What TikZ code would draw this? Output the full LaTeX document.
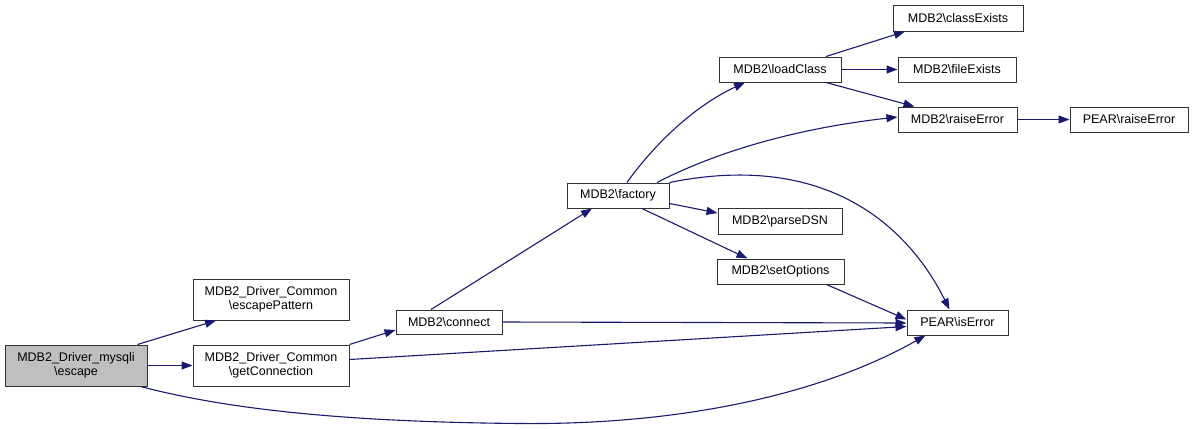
\documentclass[tikz,border=0pt]{standalone}
\usepackage{fontspec}
\setmainfont{Liberation Sans}
\usetikzlibrary{arrows.meta}
\definecolor{edgecol}{HTML}{191970}
\definecolor{boxgray}{HTML}{BFBFBF}
\tikzset{
  fnbox/.style={draw=black!80, line width=1pt, fill=white, rectangle, inner sep=0pt, align=center, font=\fontsize{12.5pt}{14.5pt}\selectfont},
  callarrow/.style={draw=edgecol, line width=1.1pt, -{Triangle[length=11pt,width=8pt]}}
}
\begin{document}
\begin{tikzpicture}[x=1pt,y=-1pt]
\useasboundingbox (0,0) rectangle (1195,429);
\node[fnbox, fill=boxgray, minimum width=142pt, minimum height=41pt] (esc) at (76,365.5) {MDB2\_Driver\_mysqli\\\textbackslash escape};
\node[fnbox, minimum width=156pt, minimum height=41pt] (ep) at (271,299.5) {MDB2\_Driver\_Common\\\textbackslash escapePattern};
\node[fnbox, minimum width=156pt, minimum height=41pt] (gc) at (271,365.5) {MDB2\_Driver\_Common\\\textbackslash getConnection};
\node[fnbox, minimum width=106pt, minimum height=24pt] (con) at (449,322) {MDB2\textbackslash connect};
\node[fnbox, minimum width=102pt, minimum height=25pt] (fac) at (618,195.5) {MDB2\textbackslash factory};
\node[fnbox, minimum width=122pt, minimum height=25pt] (lc) at (780,69.5) {MDB2\textbackslash loadClass};
\node[fnbox, minimum width=130pt, minimum height=26pt] (ce) at (958,18) {MDB2\textbackslash classExists};
\node[fnbox, minimum width=118pt, minimum height=25pt] (fe) at (957,69.5) {MDB2\textbackslash fileExists};
\node[fnbox, minimum width=119pt, minimum height=25pt] (re) at (957.5,119.5) {MDB2\textbackslash raiseError};
\node[fnbox, minimum width=118pt, minimum height=25pt] (pre) at (1129,119.5) {PEAR\textbackslash raiseError};
\node[fnbox, minimum width=124pt, minimum height=26pt] (pd) at (780,221) {MDB2\textbackslash parseDSN};
\node[fnbox, minimum width=127pt, minimum height=25pt] (so) at (780.5,271.5) {MDB2\textbackslash setOptions};
\node[fnbox, minimum width=101pt, minimum height=25pt] (ie) at (957.5,322.5) {PEAR\textbackslash isError};

\coordinate (escdip) at (520,423.5);
\draw[callarrow] (esc.north east) ++(-10,0) -- ([xshift=-55pt]ep.south);
\draw[callarrow] (esc.east) -- (gc.west);
\draw[draw=edgecol, line width=1.1pt] ([xshift=-7pt]esc.south east) .. controls (230,410) and (350,422) .. (escdip);
\draw[callarrow] (escdip) .. controls (680,425) and (820,395) .. ([xshift=-32pt]ie.south);
\draw[callarrow] (gc.north east) -- ([yshift=-8pt]con.west);
\draw[callarrow] ([yshift=6pt]gc.east) -- ([yshift=-4pt]ie.west);
\draw[callarrow] ([xshift=-18pt]con.north) -- ([xshift=-26pt]fac.south);
\draw[callarrow] (con.east) -- ([yshift=-0.5pt]ie.west);
\draw[callarrow] ([xshift=9pt]fac.north) .. controls (650,150) and (690,108) .. ([xshift=-35pt]lc.south);
\draw[callarrow] ([xshift=39pt]fac.north) .. controls (720,150) and (800,128) .. ([yshift=2.5pt]re.west);
\draw[callarrow] (fac.north east) .. controls (830,150) and (910,230) .. ([xshift=-8pt]ie.north);
\draw[callarrow] ([yshift=-8pt]fac.east) -- ([yshift=8pt]pd.west);
\draw[callarrow] ([xshift=24pt]fac.south) -- ([xshift=-33pt]so.north);
\draw[callarrow] ([xshift=46pt]so.south) -- ([yshift=-10pt]ie.north west);
\draw[callarrow] ([xshift=46pt]lc.north) -- ([xshift=-53pt]ce.south);
\draw[callarrow] (lc.east) -- (fe.west);
\draw[callarrow] ([xshift=46pt]lc.south) -- ([xshift=-43pt]re.north);
\draw[callarrow] (re.east) -- (pre.west);
\end{tikzpicture}
\end{document}
